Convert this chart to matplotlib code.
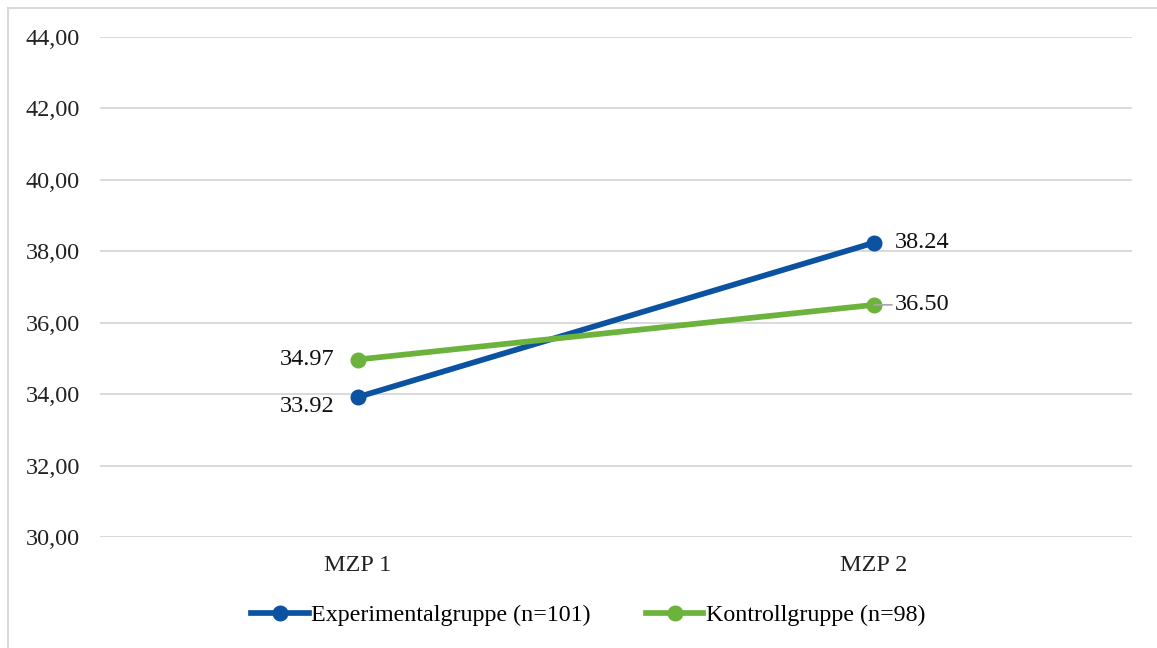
import matplotlib
matplotlib.use("Agg")
import matplotlib.pyplot as plt
from matplotlib.patches import Rectangle
from matplotlib.lines import Line2D

plt.rcParams['font.family'] = ['Liberation Serif', 'DejaVu Serif']

categories = ["MZP 1", "MZP 2"]
experimental = [33.92, 38.24]
kontroll = [34.97, 36.50]
series_names = ["Experimentalgruppe (n=101)", "Kontrollgruppe (n=98)"]
y_ticks = [30, 32, 34, 36, 38, 40, 42, 44]

blue = "#0B52A0"
green = "#6BB33C"
lw = 4.1
ms = 10.5

fig = plt.figure(figsize=(11.57, 6.48), dpi=100)
ax = fig.add_axes([100 / 1157, 1 - 537 / 648, (1132 - 100) / 1157, 500 / 648])

# outer chart frame (right and bottom edges fall outside the canvas)
fig.patches.append(Rectangle((8 / 1157, -0.1), 1.2, 1 - 8 / 648 + 0.1,
                             transform=fig.transFigure, fill=False,
                             edgecolor="#D9D9D9", linewidth=1.5))

x = list(range(len(categories)))
ax.plot(x, experimental, color=blue, linewidth=lw, marker='o', markersize=ms,
        label=series_names[0], solid_capstyle='round', zorder=3)
ax.plot(x, kontroll, color=green, linewidth=lw, marker='o', markersize=ms,
        label=series_names[1], solid_capstyle='round', zorder=3)

ax.set_xlim(-0.5, len(categories) - 0.5)
ax.set_ylim(y_ticks[0], y_ticks[-1])
ax.set_yticks(y_ticks)
ax.set_yticklabels([f"{v:.2f}".replace('.', ',') for v in y_ticks])
ax.set_xticks(x)
ax.set_xticklabels(categories)
ax.tick_params(axis='y', length=0, pad=14.5, labelsize=17.5, colors='#222222')
ax.tick_params(axis='x', length=0, pad=13, labelsize=17.5, colors='#222222')
for s in ax.spines.values():
    s.set_visible(False)
ax.yaxis.grid(True, color="#D9D9D9", linewidth=1.4)
ax.set_axisbelow(True)

fs = 17.5
# value labels
ax.annotate(f"{experimental[0]:.2f}", (x[0], experimental[0]), xytext=(-17, -7),
            textcoords='offset points', ha='right', va='center', fontsize=fs, color='#111111')
ax.annotate(f"{kontroll[0]:.2f}", (x[0], kontroll[0]), xytext=(-17, 0),
            textcoords='offset points', ha='right', va='center', fontsize=fs, color='#111111')
ax.annotate(f"{experimental[1]:.2f}", (x[1], experimental[1]), xytext=(15, 0),
            textcoords='offset points', ha='left', va='center', fontsize=fs, color='#111111')
ax.annotate(f"{kontroll[1]:.2f}", (x[1], kontroll[1]), xytext=(15, 0),
            textcoords='offset points', ha='left', va='center', fontsize=fs, color='#111111',
            arrowprops=dict(arrowstyle='-', color='#A6A6A6', linewidth=1.2,
                            shrinkA=0, shrinkB=0, relpos=(0, 0.5)))

handles = [Line2D([0], [0], color=blue, linewidth=lw, marker='o', markersize=ms),
           Line2D([0], [0], color=green, linewidth=lw, marker='o', markersize=ms)]
fig.legend(handles, series_names, loc='center', bbox_to_anchor=(588 / 1157, 1 - 615 / 648),
           ncol=2, frameon=False, fontsize=17.3, handlelength=2.4, handletextpad=0.1,
           columnspacing=2.3)

fig.savefig("out.png", dpi=100, facecolor='white')
